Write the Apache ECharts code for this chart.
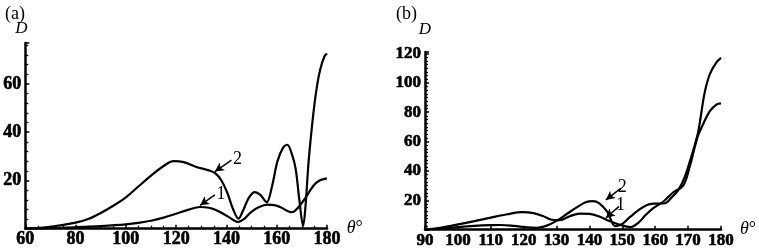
<!DOCTYPE html>
<html>
<head>
<meta charset="utf-8">
<script src="https://cdn.jsdelivr.net/npm/echarts@6/dist/echarts.min.js"></script>
<style>
  html, body { margin: 0; padding: 0; background: #fff; }
  #chart { width: 759px; height: 249px; }
</style>
</head>
<body>
<div id="chart"></div>
<script>
// panel (a): [theta, D]
const aCurve1 = [
  [60, 0], [70, 0.2], [80, 0.6], [90, 1.1], [100, 1.8], [105, 2.4], [110, 3.3],
  [115, 4.6], [120, 6.2], [125, 7.9], [129.5, 9], [133, 8.7], [136, 7.7],
  [140.7, 5], [144.8, 2.8], [147, 4], [149.8, 6.9], [153, 9], [156.3, 10],
  [159, 9.8], [161.6, 8.9], [165.5, 6.9], [167, 7.2], [170.7, 11.7],
  [174.6, 17.8], [177, 20], [180, 20.9]
];
const aCurve2 = [
  [60, 0], [70, 0.8], [80, 2.5], [85, 4], [90, 6.5], [95, 9.5], [100, 13],
  [105, 17.5], [110, 22], [115, 26], [119, 28], [123, 27.6], [128, 25.6],
  [133, 24.2], [135.5, 23], [138, 20], [140.5, 14.5], [142.5, 8.5], [144.8, 4.2], [146.8, 8],
  [149, 13], [151.3, 15.2], [153.5, 14], [156, 11], [158, 17], [160.3, 28],
  [162.5, 33.5], [164.2, 34.8], [166, 31], [167.5, 25], [169, 12], [170.5, 1.2],
  [171.5, 10], [172.7, 28], [174.6, 48], [176, 59], [177.3, 66], [179, 71.5],
  [180, 72.6]
];
// panel (b)
const bCurve1 = [
  [90, 0], [95, 1.5], [100, 3.6], [105, 5.8], [110, 8.2], [115, 10.5],
  [119.5, 11.9], [123, 11.3], [126, 9.2], [128.5, 6.8], [131, 6.5], [134, 9.2],
  [137, 11], [140, 10.8], [143, 9], [146, 6], [149, 3.5], [152.5, 1.8],
  [155, 5], [157, 9.8], [159.5, 14.8], [162.5, 19.2], [165.5, 25.5],
  [168.5, 30], [170.5, 43], [172, 56], [173, 64], [175, 74], [176.6, 80.7],
  [178.6, 85.2], [180, 86]
];
const bCurve2 = [
  [90, 0], [95, 0.8], [100, 1.8], [105, 2.6], [110, 3.1], [113, 3.2],
  [117, 2.6], [121, 1.6], [124, 1.3], [127, 2.8], [130, 6], [133, 10.5],
  [136, 15], [139, 18.8], [141, 19.5], [143, 18], [145.5, 12], [147.8, 2.5],
  [150, 4], [152, 8], [155, 13.5], [157.5, 16.8], [159.5, 17.7], [161.5, 17.8],
  [163, 18], [165, 22], [167, 27], [169, 36], [171, 50], [173, 66], [175, 93],
  [176.6, 106], [178.6, 114], [180, 117]
];
// arrow annotations: [tail, head]
const aArrow1 = [[135.4, 14], [129.5, 9.7]];
const aArrow2 = [[142, 28.4], [135.4, 23.7]];
const bArrow1 = [[149, 15.9], [145, 8]];
const bArrow2 = [[149.5, 28.2], [145, 20.3]];

const serif = '"Liberation Serif", "DejaVu Serif", serif';

const chart = echarts.init(document.getElementById('chart'));

function boldLabel(size) {
  return {
    color: '#000', fontFamily: serif, fontWeight: 'bold', fontSize: size,
    textBorderColor: '#000', textBorderWidth: 0.6
  };
}

function xAxisCfg(gridIndex, min, max, interval, minorSplit, size) {
  return {
    type: 'value', gridIndex, min, max, interval,
    name: '{i|θ}°', nameLocation: 'end', nameGap: 17,
    nameTextStyle: {
      fontFamily: serif, fontSize: 18, color: '#000',
      rich: { i: { fontFamily: serif, fontStyle: 'italic', fontSize: 18, color: '#000' } }
    },
    axisLine: { show: true, onZero: false, lineStyle: { color: '#000', width: 2.5 } },
    axisTick: { show: true, inside: true, length: 4, lineStyle: { color: '#000', width: 1.5 } },
    minorTick: { show: minorSplit > 0, splitNumber: minorSplit || 5, length: 3, lineStyle: { color: '#000', width: 1.3 } },
    splitLine: { show: false },
    axisLabel: Object.assign({ margin: 2, showMinLabel: true, showMaxLabel: true }, boldLabel(size))
  };
}

function yAxisCfg(gridIndex, max, minorSplit, nameGap, namePad, size) {
  return {
    type: 'value', gridIndex, min: 0, max, interval: 20,
    name: 'D', nameLocation: 'end', nameGap,
    nameTextStyle: { fontFamily: serif, fontStyle: 'italic', fontSize: 17, color: '#000', padding: namePad },
    axisLine: { show: true, lineStyle: { color: '#000', width: 2.5 } },
    axisTick: { show: true, inside: true, length: 4, lineStyle: { color: '#000', width: 1.5 } },
    minorTick: { show: true, splitNumber: minorSplit, length: 3, lineStyle: { color: '#000', width: 1.3 } },
    splitLine: { show: false },
    axisLabel: Object.assign({
      margin: 4,
      formatter: v => (v > 0 && v % 20 === 0) ? String(v) : ''
    }, boldLabel(size))
  };
}

function curve(xi, data) {
  return {
    type: 'line', xAxisIndex: xi, yAxisIndex: xi, data,
    showSymbol: false, smooth: 0.35, silent: true,
    lineStyle: { color: '#000', width: 2.2 }
  };
}

function arrow(xi, pts, text) {
  return {
    type: 'line', xAxisIndex: xi, yAxisIndex: xi, data: [], silent: true,
    markLine: {
      silent: true, animation: false,
      symbol: ['none', 'arrow'], symbolSize: [7, 9],
      lineStyle: { color: '#000', width: 1.5, type: 'solid' },
      label: {
        show: true, position: 'start', formatter: text, distance: 2,
        color: '#000', fontFamily: serif, fontSize: 18
      },
      data: [[{ coord: pts[0] }, { coord: pts[1] }]]
    }
  };
}

chart.setOption({
  animation: false,
  backgroundColor: '#fff',
  title: [
    { text: '(a)', left: 0, top: 0, textStyle: { fontFamily: serif, fontWeight: 'normal', fontSize: 18, color: '#000' } },
    { text: '(b)', left: 391, top: 0, textStyle: { fontFamily: serif, fontWeight: 'normal', fontSize: 18, color: '#000' } }
  ],
  grid: [
    { left: 21, top: 43, width: 306, height: 189 },
    { left: 425, top: 52, width: 300, height: 180 }
  ],
  xAxis: [
    xAxisCfg(0, 60, 180, 20, 4, 18),
    xAxisCfg(1, 90, 180, 10, 0, 17)
  ],
  yAxis: [
    yAxisCfg(0, 77, 5, 6, [0, 8, 0, 0], 18),
    yAxisCfg(1, 121, 8, 14, [0, 0, 0, 0], 17)
  ],
  series: [
    curve(0, aCurve1),
    curve(0, aCurve2),
    curve(1, bCurve1),
    curve(1, bCurve2),
    arrow(0, aArrow1, '1'),
    arrow(0, aArrow2, '2'),
    arrow(1, bArrow1, '1'),
    arrow(1, bArrow2, '2')
  ]
});
</script>
</body>
</html>
